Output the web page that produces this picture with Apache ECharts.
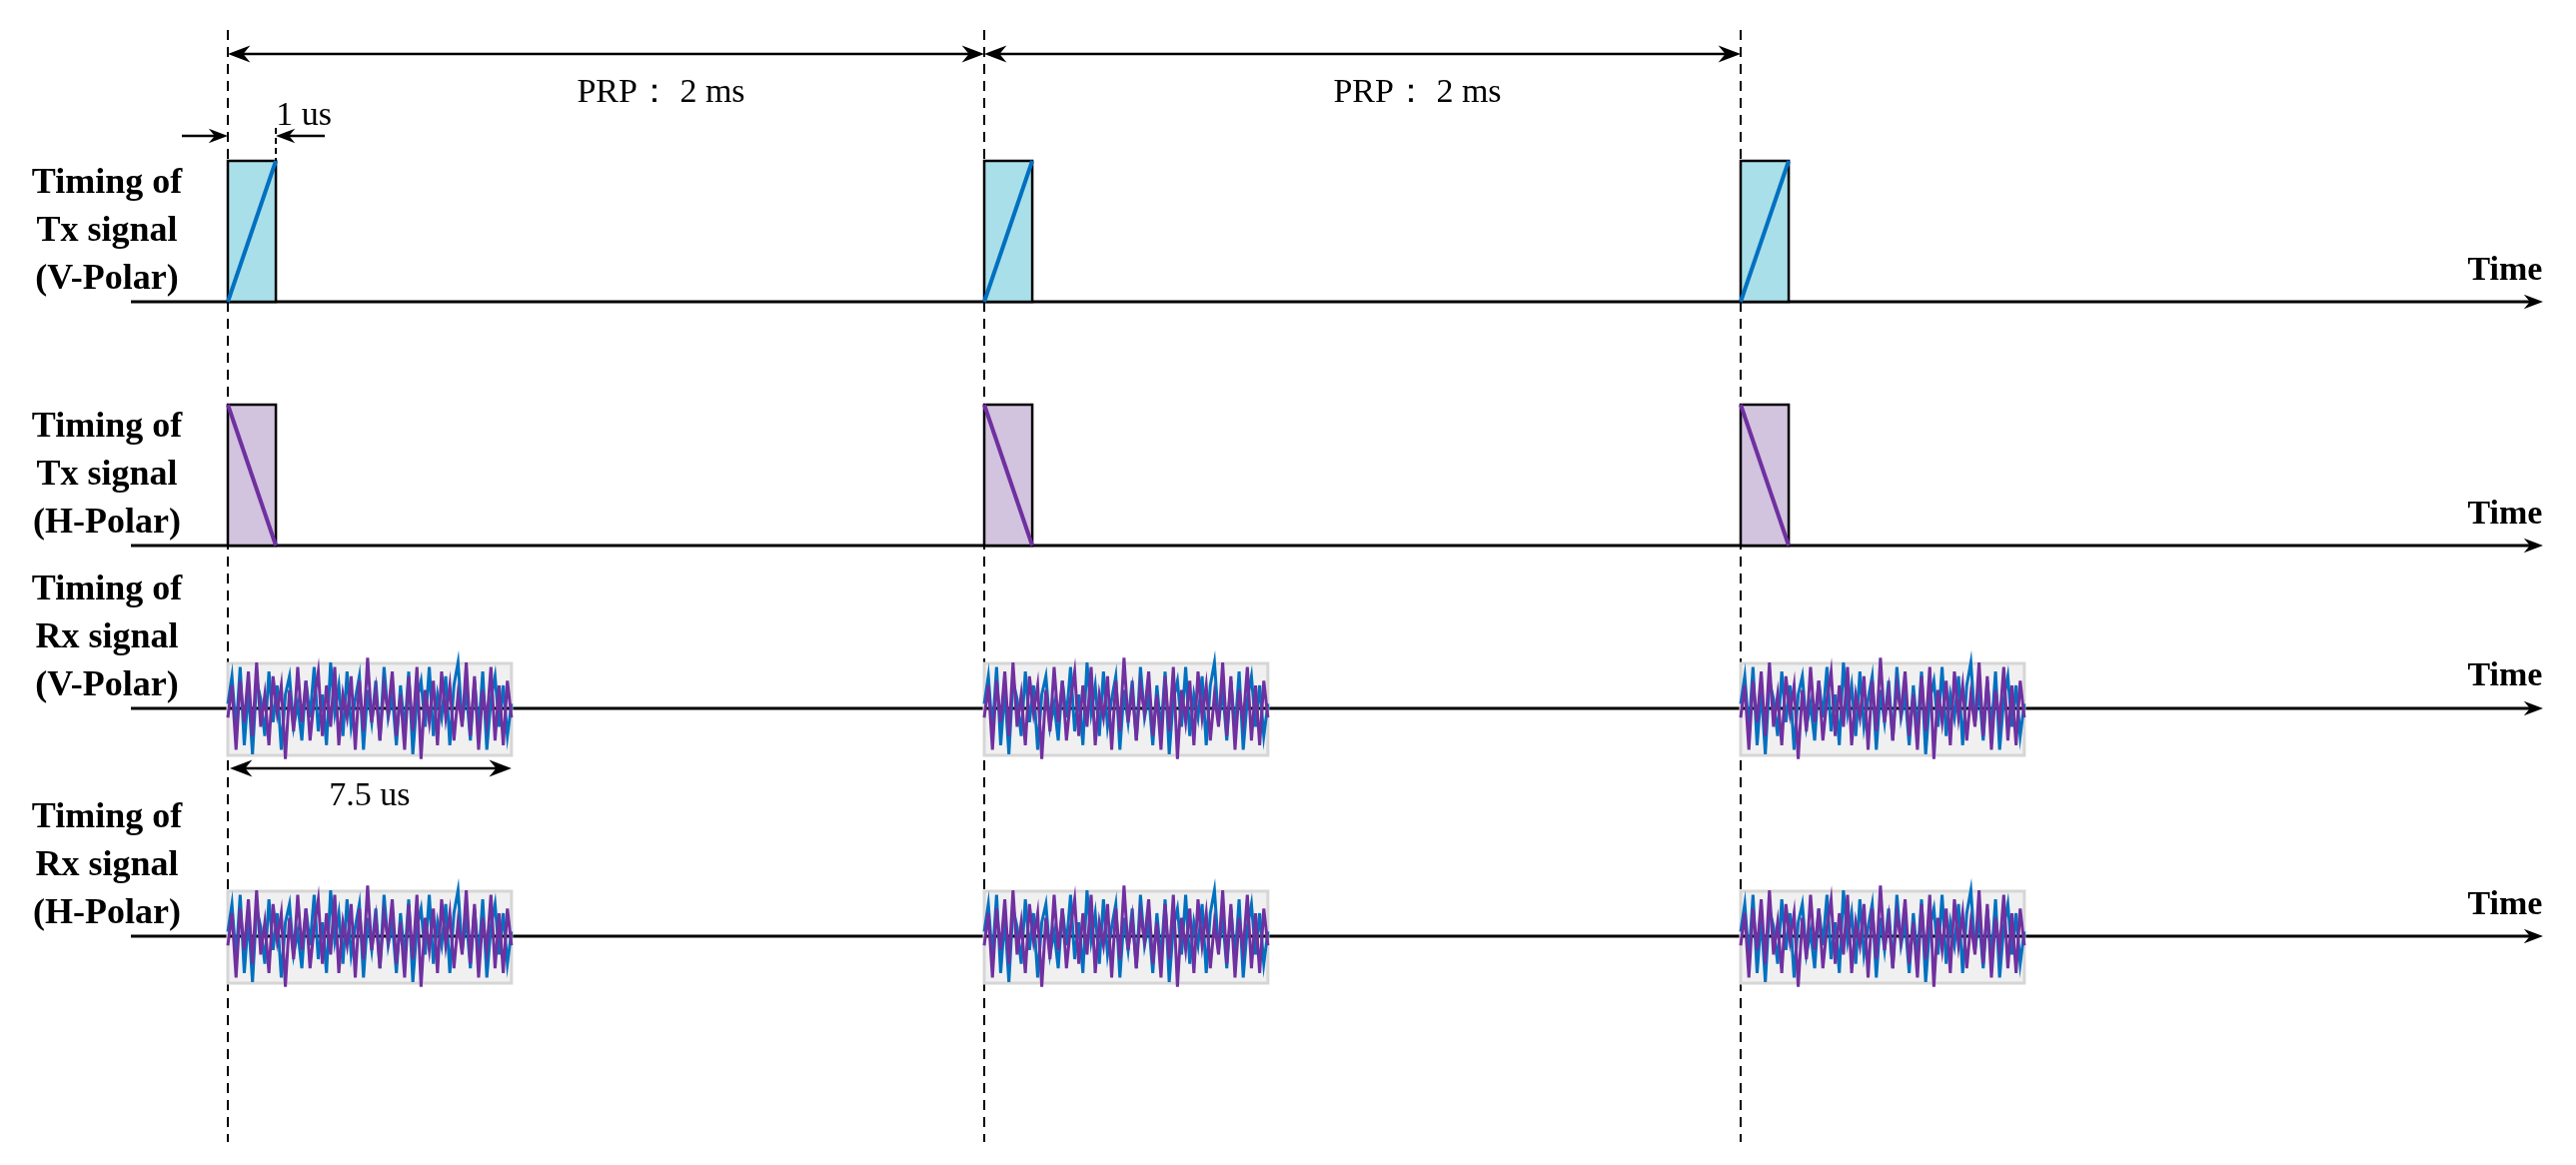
<!DOCTYPE html>
<html>
<head>
<meta charset="utf-8">
<script src="https://cdn.jsdelivr.net/npm/echarts@6/dist/echarts.min.js"></script>
<style>html,body{margin:0;padding:0;background:#fff}#main{width:2578px;height:1166px}</style>
</head>
<body>
<div id="main"></div>
<script>
// data (time in ms, display widths stretched)
var pulseStarts = [0, 2, 4];
var prpLabels = ['PRP： 2 ms', 'PRP： 2 ms'];
var rowLabels = [['Timing of', 'Tx signal', '(V-Polar)'], ['Timing of', 'Tx signal', '(H-Polar)'],
                 ['Timing of', 'Rx signal', '(V-Polar)'], ['Timing of', 'Rx signal', '(H-Polar)']];
var txWidth = 0.127;   // 1 us, drawn wide
var rxWidth = 0.75;    // 7.5 us, drawn wide
var noiseBlue = [0.1,0.7,-0.5,0.9,-0.8,0.4,-1.0,0.6,0.2,-0.6,0.8,-0.3,0.5,-0.9,0.3,0.7,-0.4,0.1,-0.7,0.6,
                 -0.2,0.9,-0.5,0.3,-0.8,1.0,-0.1,0.5,-0.6,0.8,-0.4,0.2,0.7,-0.9,0.4,-0.3,0.6,-0.7,0.9,-0.2,
                 0.3,-0.8,0.5,-0.5,0.8,-1.0,0.2,0.6,-0.4,0.9,-0.6,0.3,-0.2,0.7,-0.8,0.5,1.0,-0.3,0.4,-0.7,
                 0.6,-0.5,0.8,-0.9,0.2,0.7,-0.4,0.5,-0.6,0.1];
var noisePurple = [-0.2,0.5,-0.9,0.6,-0.3,0.8,-0.6,1.0,-0.4,0.3,-0.8,0.7,-0.1,0.5,-1.1,0.4,-0.5,0.9,-0.3,0.6,
                   -0.7,0.2,0.8,-0.6,0.5,-0.4,0.9,-0.8,0.3,-0.2,0.7,-0.9,0.6,-0.5,1.1,-0.3,0.4,-0.7,0.5,-0.1,
                   0.8,-0.6,0.3,-0.9,0.7,-0.5,0.9,-1.1,0.4,-0.3,0.6,-0.8,0.8,-0.2,0.5,-0.7,0.3,-0.4,1.0,-0.6,
                   0.7,-0.9,0.4,-0.3,0.9,-0.7,0.5,-0.8,0.6,-0.2];

// layout (pixels)
var rowBase = [302, 546, 709, 937];
var pulseH = 141, noiseH = 46, boxTop = 45, boxBot = 47;
var axisX0 = 131, axisX1 = 2545;
var font = '"Liberation Serif", "Times New Roman", serif';
var blue = '#0070c0', purple = '#7030a0';

var chart = echarts.init(document.getElementById('main'));

function arrowHead(x, y, dir, size) {
  return { type: 'polygon', shape: { points: [[x, y], [x - dir * size * 1.6, y - size * 0.6], [x - dir * size * 1.1, y], [x - dir * size * 1.6, y + size * 0.6]] },
           style: { fill: '#000' } };
}
function hline(x1, x2, y, w) {
  return { type: 'line', shape: { x1: x1, y1: y, x2: x2, y2: y }, style: { stroke: '#000', lineWidth: w } };
}
function txt(x, y, t, size, bold, align) {
  return { type: 'text', x: x, y: y, style: { text: t, font: (bold ? 'bold ' : '') + size + 'px ' + font, fill: '#000', align: align || 'center', verticalAlign: 'middle' } };
}

function renderAll(params, api) {
  var ch = [];
  var px = function (t) { return api.coord([t, 0])[0]; };
  // axes
  rowBase.forEach(function (y, r) {
    ch.push(hline(axisX0, axisX1 - 8, y, 3));
    ch.push(arrowHead(axisX1, y, 1, 12));
    ch.push(txt(2507, y - 31 - (r === 2 ? 1 : 0), 'Time', 34, true));
    rowLabels[r].forEach(function (s, k) {
      ch.push(txt(107, y - 118 + k * 48, s, 36, true));
    });
  });
  pulseStarts.forEach(function (t) {
    var x0 = px(t), x1 = px(t + txWidth), xr = px(t + rxWidth);
    // dashed line
    ch.push({ type: 'line', shape: { x1: x0, y1: 30, x2: x0, y2: 1143 }, style: { stroke: '#000', lineWidth: 2, lineDash: [10, 7] } });
    // V pulse
    var yb = rowBase[0];
    ch.push({ type: 'rect', shape: { x: x0, y: yb - pulseH, width: x1 - x0, height: pulseH }, style: { fill: '#a9dfe9', stroke: '#000', lineWidth: 2.5 } });
    ch.push({ type: 'line', shape: { x1: x0, y1: yb, x2: x1, y2: yb - pulseH }, style: { stroke: blue, lineWidth: 4 } });
    // H pulse
    yb = rowBase[1];
    ch.push({ type: 'rect', shape: { x: x0, y: yb - pulseH, width: x1 - x0, height: pulseH }, style: { fill: '#d2c3de', stroke: '#000', lineWidth: 2.5 } });
    ch.push({ type: 'line', shape: { x1: x0, y1: yb - pulseH, x2: x1, y2: yb }, style: { stroke: purple, lineWidth: 4 } });
    // Rx boxes
    [2, 3].forEach(function (r) {
      var y = rowBase[r];
      ch.push({ type: 'rect', shape: { x: x0, y: y - boxTop, width: xr - x0, height: boxTop + boxBot }, style: { fill: '#f0f0f0', stroke: '#d6d6d6', lineWidth: 3 } });
      ch.push(hline(x0, xr, y, 3));
      [[noiseBlue, blue], [noisePurple, purple]].forEach(function (p) {
        var arr = p[0], n = arr.length;
        var pts = arr.map(function (v, i) { return [px(t + rxWidth * i / (n - 1)), y - v * noiseH]; });
        ch.push({ type: 'polyline', shape: { points: pts }, style: { stroke: p[1], lineWidth: 3, fill: null } });
      });
    });
  });
  // PRP arrows
  for (var i = 0; i < pulseStarts.length - 1; i++) {
    var a = px(pulseStarts[i]), b = px(pulseStarts[i + 1]);
    ch.push(hline(a + 10, b - 10, 54, 2.5));
    ch.push(arrowHead(a, 54, -1, 14));
    ch.push(arrowHead(b, 54, 1, 14));
    ch.push(txt((a + b) / 2 + 55, 93, prpLabels[i], 34, false));
  }
  // 1 us marker
  var p0 = px(0), p1 = px(txWidth);
  ch.push(hline(182, p0 - 8, 136, 2.5));
  ch.push(arrowHead(p0, 136, 1, 12));
  ch.push(hline(p1 + 8, 325, 136, 2.5));
  ch.push(arrowHead(p1, 136, -1, 12));
  ch.push({ type: 'line', shape: { x1: p1, y1: 128, x2: p1, y2: 161 }, style: { stroke: '#000', lineWidth: 2, lineDash: [6, 4] } });
  ch.push(txt((p0 + p1) / 2 + 52, 116, '1 us', 34, false));
  // 7.5 us marker
  var r1 = px(rxWidth);
  ch.push(hline(p0 + 10, r1 - 10, 769, 2.5));
  ch.push(arrowHead(p0 + 2, 769, -1, 14));
  ch.push(arrowHead(r1, 769, 1, 14));
  ch.push(txt((p0 + r1) / 2, 797, '7.5 us', 34, false));
  return { type: 'group', children: ch };
}

var option = {
  animation: false,
  grid: { left: 0, right: 0, top: 0, bottom: 0 },
  xAxis: { type: 'value', min: -0.6024, max: 6.2087, show: false },
  yAxis: { type: 'value', min: 0, max: 1, show: false },
  series: [{ type: 'custom', data: [[0, 0]], renderItem: renderAll, silent: true }]
};
chart.setOption(option);
</script>
</body>
</html>
